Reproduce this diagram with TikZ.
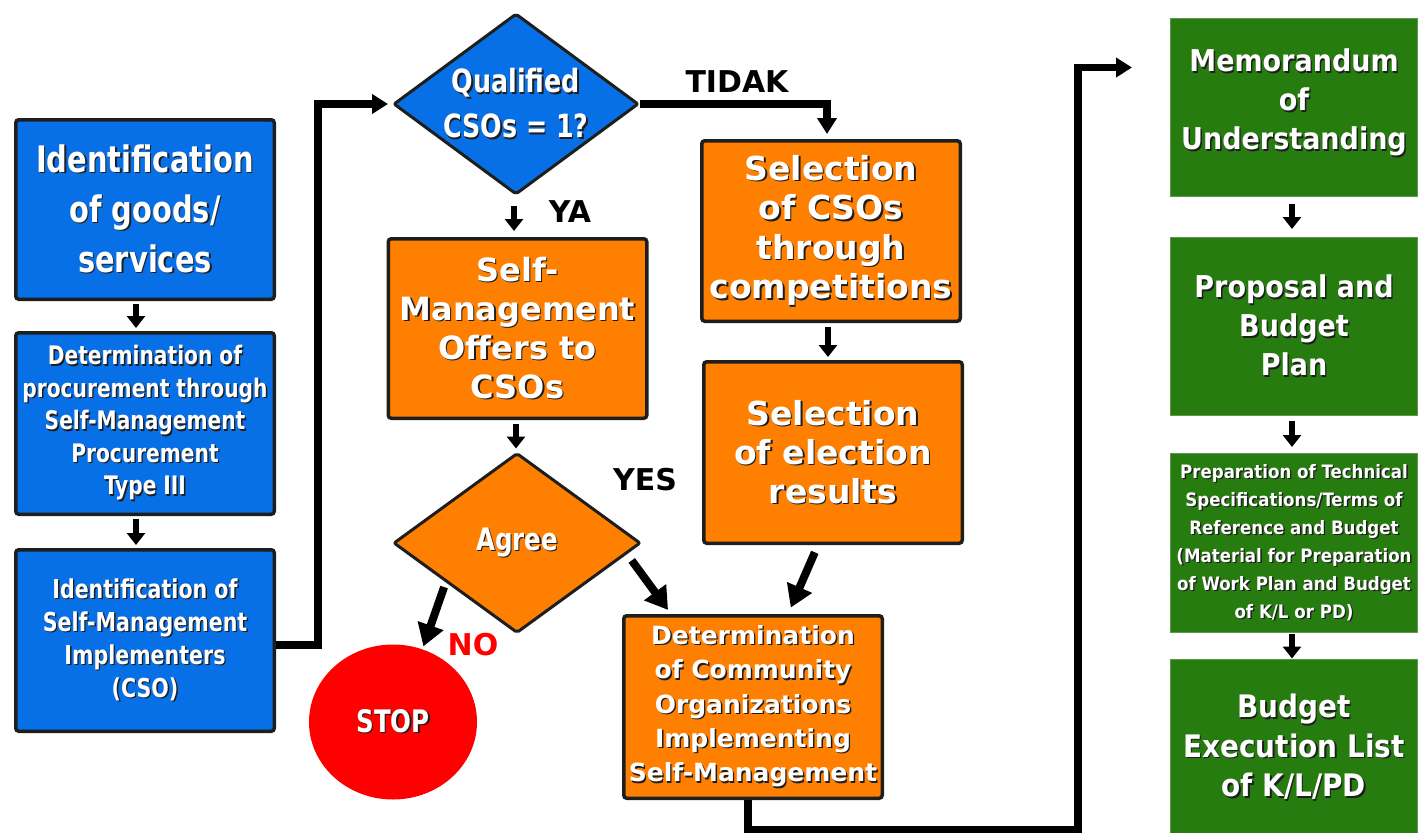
\documentclass[tikz,border=0pt]{standalone}
\usepackage{fontspec}
\setmainfont{DejaVu Sans}
\newfontfamily\cond{DejaVu Sans Condensed}
\newfontfamily\narrowf{DejaVu Sans Condensed}[FakeStretch=0.88]
\usetikzlibrary{arrows.meta,shapes.geometric,calc}

\definecolor{procblue}{RGB}{8,112,230}
\definecolor{procorange}{RGB}{255,128,0}
\definecolor{procgreen}{RGB}{38,124,14}
\definecolor{procgreenedge}{RGB}{95,150,75}
\definecolor{stopred}{RGB}{255,0,0}
\definecolor{edgeink}{RGB}{30,30,30}
\definecolor{txtshadow}{RGB}{30,30,30}

% white text with a dark drop shadow, one line at a time
\newcommand\sh[1]{\rlap{\kern1.4pt\raisebox{-1.4pt}{\textcolor{txtshadow}{#1}}}#1}

\tikzset{
  box/.style={rectangle, rounded corners=3pt, text=white, align=center, inner sep=0pt},
  bluebox/.style={box, fill=procblue, draw=edgeink, line width=3.5pt,
    minimum width=258.5pt},
  orangebox/.style={box, fill=procorange, draw=edgeink, line width=3.5pt,
    minimum width=258.5pt},
  greenbox/.style={box, rounded corners=0pt, fill=procgreen, draw=procgreenedge,
    line width=1pt, minimum width=247pt},
  decision/.style={diamond, aspect=1.35, inner sep=0pt, draw=edgeink, line width=3pt,
    text=white, align=center, rounded corners=2pt},
  stub/.style={line width=6pt, -{Triangle[width=18pt,length=12pt]}},
  flow/.style={line width=7.5pt, -{Triangle[width=19pt,length=16pt]}},
  diag/.style={line width=8pt, -{Triangle[width=26pt,length=22pt]}},
  answer/.style={font=\bfseries\fontsize{30}{30}\selectfont, inner sep=0pt},
}

\begin{document}
\begin{tikzpicture}[x=1pt, y=-1pt]
\useasboundingbox (0,0) rectangle (1425,833);

% left column
\node[bluebox, minimum height=179.5pt,
  font=\narrowf\bfseries\fontsize{36.5}{50}\selectfont] (b1) at (145,209.5)
  {\sh{Identification}\\\sh{of goods/}\\\sh{services}};
\node[bluebox, minimum height=181.5pt,
  font=\narrowf\bfseries\fontsize{25.5}{32.5}\selectfont] (b2) at (145,423.5)
  {\sh{Determination of}\\\sh{procurement through}\\\sh{Self-Management}\\\sh{Procurement}\\\sh{Type III}};
\node[bluebox, minimum height=181.5pt,
  font=\narrowf\bfseries\fontsize{26}{33}\selectfont] (b3) at (145,640.5)
  {\sh{Identification of}\\\sh{Self-Management}\\\sh{Implementers}\\\sh{(CSO)}};

% decisions
\node[decision, fill=procblue, minimum width=245pt, minimum height=181pt,
  font=\narrowf\bfseries\fontsize{32}{45}\selectfont] (q) at (516,104)
  {\sh{Qualified}\\\sh{CSOs = 1?}};
\node[decision, fill=procorange, minimum width=247pt, minimum height=180pt,
  font=\narrowf\bfseries\fontsize{31}{32}\selectfont] (ag) at (517,543)
  {\sh{Agree}};

% middle column
\node[orangebox, minimum height=179.5pt,
  font=\bfseries\fontsize{32}{39}\selectfont] (o1) at (517.5,328.5)
  {\sh{Self-}\\\sh{Management}\\\sh{Offers to}\\\sh{CSOs}};
\node[ellipse, fill=stopred, minimum width=168pt, minimum height=155pt, inner sep=0pt,
  text=white, font=\narrowf\bfseries\fontsize{31}{32}\selectfont] (stop) at (393,722)
  {\sh{STOP}};

% right-middle column
\node[orangebox, minimum height=180.5pt,
  font=\bfseries\fontsize{33}{39.5}\selectfont] (o2) at (831,231)
  {\sh{Selection}\\\sh{of CSOs}\\\sh{through}\\\sh{competitions}};
\node[orangebox, minimum height=181.5pt,
  font=\bfseries\fontsize{33}{39}\selectfont] (o3) at (833,452.5)
  {\sh{Selection}\\\sh{of election}\\\sh{results}};
\node[orangebox, minimum height=182.5pt,
  font=\bfseries\fontsize{25}{34.3}\selectfont] (o4) at (753,707)
  {\sh{Determination}\\\sh{of Community}\\\sh{Organizations}\\\sh{Implementing}\\\sh{Self-Management}};

% right column
\node[greenbox, minimum height=178pt,
  font=\cond\bfseries\fontsize{30}{39}\selectfont] (g1) at (1294,107.5)
  {\sh{Memorandum}\\\sh{of}\\\sh{Understanding}\\[-23pt]};
\node[greenbox, minimum height=178pt,
  font=\cond\bfseries\fontsize{30}{39}\selectfont] (g2) at (1294,326.5)
  {\sh{Proposal and}\\\sh{Budget}\\\sh{Plan}};
\node[greenbox, minimum height=179pt,
  font=\cond\bfseries\fontsize{18.5}{28}\selectfont] (g3) at (1294,543)
  {\sh{Preparation of Technical}\\\sh{Specifications/Terms of}\\\sh{Reference and Budget}\\
   \sh{(Material for Preparation}\\\sh{of Work Plan and Budget}\\\sh{of K/L or PD)}};
\node[greenbox, minimum height=177pt,
  font=\cond\bfseries\fontsize{31}{39.5}\selectfont] (g4) at (1294,747.5)
  {\sh{Budget}\\\sh{Execution List}\\\sh{of K/L/PD}};

% answer labels
\node[answer] (tidak) at (737,82) {TIDAK};
\node[answer] (ya) at (570,212) {YA};
\node[answer] (yes) at (645,480) {YES};
\node[answer, text=stopred] (no) at (473,645) {NO};

% short step arrows
\draw[stub, shorten <=3pt, shorten >=3pt] ([xshift=-9pt]b1.south) -- ([xshift=-9pt]b2.north);
\draw[stub, shorten <=3pt, shorten >=3pt] ([xshift=-9pt]b2.south) -- ([xshift=-9pt]b3.north);
\draw[stub, shorten <=10pt, shorten >=6pt] ([xshift=-2pt]q.south) -- ([xshift=-3.5pt]o1.north);
\draw[stub, shorten <=4pt, shorten >=3pt] ([xshift=-1.5pt]o1.south) -- ([xshift=-1pt]ag.north);
\draw[stub, shorten <=4pt, shorten >=3pt] ([xshift=-3pt]o2.south) -- ([xshift=-5pt]o3.north);
\draw[stub, shorten <=7pt, shorten >=8pt] ([xshift=-2pt]g1.south) -- ([xshift=-2pt]g2.north);
\draw[stub, shorten <=5pt, shorten >=6pt] ([xshift=-2pt]g2.south) -- ([xshift=-2pt]g3.north);
\draw[stub, shorten <=1pt, shorten >=0pt] ([xshift=-2pt]g3.south) -- ([xshift=-2pt]g4.north);

% main flow connectors
\draw[flow, shorten >=4pt] ([yshift=-4.5pt]b3.east) -- ++(42,0) |- (q.west);
\draw[flow, shorten >=5pt] (q.east) -| ([xshift=-4pt]o2.north);
\draw[diag, shorten <=8pt, shorten >=5pt] ($(ag.east)!0.12!(ag.south)$) -- ([xshift=-82pt]o4.north);
\draw[diag, shorten <=5pt, shorten >=3pt] ($(ag.west)!0.43!(ag.south)$) -- (stop.68);
\draw[diag, shorten <=8pt, shorten >=7pt] ([xshift=-15pt]o3.south) -- ([xshift=35pt]o4.north);
\coordinate (mouturn) at ($(g1.west)+(-92,-40)$);
\coordinate (mouend) at ($(g1.west)+(-38,-40)$);
\draw[flow] ([xshift=-5pt]o4.south) -- ++(0,30) -| (mouturn) -- (mouend);
\end{tikzpicture}
\end{document}
